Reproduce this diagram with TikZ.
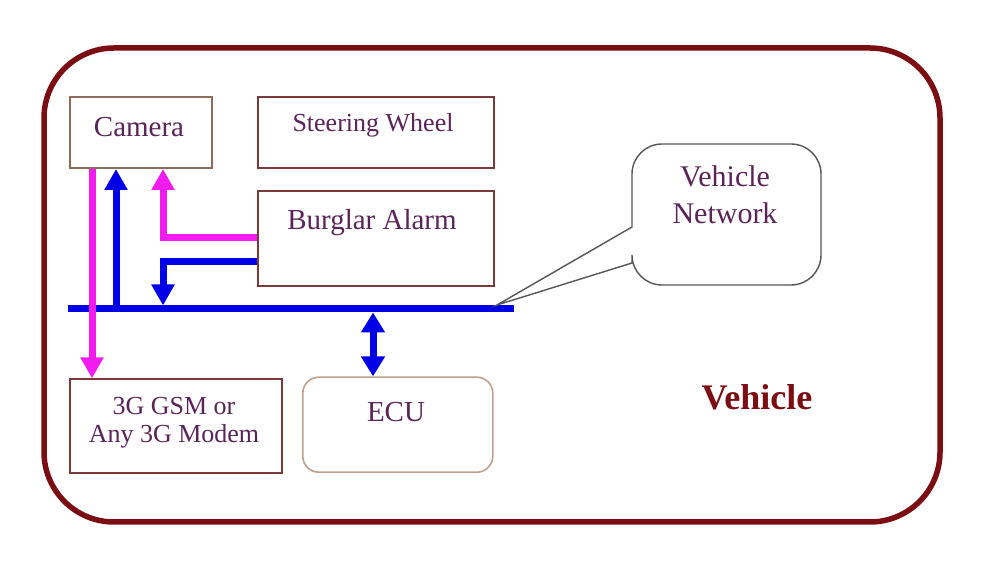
\documentclass[tikz,border=0pt]{standalone}
\usepackage{fontspec}
\setmainfont{Liberation Serif}
\usetikzlibrary{arrows.meta}
\definecolor{frame}{HTML}{7A0E12}
\definecolor{txt}{HTML}{5A2458}
\definecolor{boxb}{HTML}{7A3A3C}
\definecolor{camb}{HTML}{8E6A58}
\definecolor{ecub}{HTML}{C2A08E}
\definecolor{busb}{HTML}{0000E6}
\definecolor{mag}{HTML}{F21CF0}
\definecolor{callb}{HTML}{555555}
\tikzset{
  box/.style={draw=boxb, line width=1.6pt, minimum width=#1, inner sep=0pt, anchor=south west},
  lbl/.style={text=txt, anchor=base, inner sep=0pt},
  busline/.style={draw=busb, line width=7pt},
  magline/.style={draw=mag, line width=7pt},
  tip/.style={-{Triangle[width=22pt,length=21pt]}},
  dtip/.style={{Triangle[width=23pt,length=20pt]}-{Triangle[width=23pt,length=20pt]}},
}
\begin{document}
\begin{tikzpicture}[x=1pt,y=1pt]
\useasboundingbox (0,0) rectangle (1000,569);
\fill[white] (0,0) rectangle (1000,569);
% outer frame
\draw[frame, line width=5.5pt, rounded corners=70pt] (44,47) rectangle (940,521);
% boxes
\node[box=142pt, draw=camb, minimum height=71pt] (cam) at (69,400) {};
\node[box=236pt, minimum height=71pt] (steer) at (257,400) {};
\node[box=236pt, minimum height=95pt] (alarm) at (257,282) {};
\node[box=212pt, minimum height=94pt] (gsm) at (69,95) {};
\node[box=190pt, draw=ecub, minimum height=95pt, rounded corners=16pt] (ecu) at (302,96) {};
% labels
\node[lbl, font=\fontsize{29}{30}\selectfont] (tcam) at (139,432) {Camera};
\node[lbl, font=\fontsize{26}{27}\selectfont] (tsteer) at (373,437) {Steering Wheel};
\node[lbl, font=\fontsize{29}{30}\selectfont] (talarm) at (372,339) {Burglar Alarm};
\node[lbl, font=\fontsize{26}{27}\selectfont] (tgsm1) at (174,154) {3G GSM or};
\node[lbl, font=\fontsize{26}{27}\selectfont] (tgsm2) at (174,126) {Any 3G Modem};
\node[lbl, font=\fontsize{29}{30}\selectfont] (tecu) at (396,147) {ECU};
% bus
\coordinate (busL) at (68,260);
\coordinate (busR) at (514,260);
\draw[busline] (busL) -- (busR);
% callout
\draw[callb, line width=1.4pt, fill=white]
  (632,306) -- (497,264) -- (632,342) -- (632,395) arc (180:90:30) -- (791,425)
  arc (90:0:30) -- (821,314) arc (0:-90:30) -- (662,284) arc (-90:-180:30) -- cycle;
\node[lbl, font=\fontsize{30}{31}\selectfont] (tveh) at (725,382) {Vehicle};
\node[lbl, font=\fontsize{30}{31}\selectfont] (tnet) at (725,345) {Network};
% connectors
\draw[busline, tip] (116,256.5) -- ([xshift=47pt]cam.south west);
\draw[magline, tip] ([xshift=23pt]cam.south west) -- ([xshift=23pt]gsm.north west);
\draw[magline, tip] ([yshift=49pt]alarm.south west) -| ([xshift=94pt]cam.south west);
\draw[busline, tip] ([yshift=25pt]alarm.south west) -| (163,263.5);
\draw[busline, dtip] (373,256.5) -- ([xshift=71pt]ecu.north west);
% title
\node[lbl, text=frame, font=\bfseries\fontsize{36}{37}\selectfont] (title) at (757,159) {Vehicle};
\end{tikzpicture}
\end{document}
